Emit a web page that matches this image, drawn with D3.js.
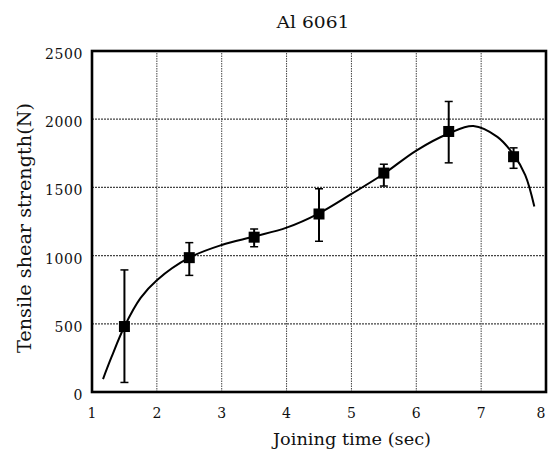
<!DOCTYPE html>
<html>
<head>
<meta charset="utf-8">
<script src="https://cdn.jsdelivr.net/npm/d3@7"></script>
<style>
  body { margin: 0; background: #fff; }
  svg { display: block; }
  text { font-family: "DejaVu Serif", "Liberation Serif", serif; fill: #111; }
</style>
</head>
<body>
<div id="container"></div>
<script>
// measured points (joining time vs. strength), with error bar limits
var times = [1.5, 2.5, 3.5, 4.5, 5.5, 6.5, 7.5];
var strength = [480, 985, 1135, 1305, 1605, 1910, 1725];
var errHigh = [895, 1095, 1195, 1490, 1670, 2130, 1790];
var errLow = [70, 855, 1065, 1105, 1510, 1680, 1640];

// fitted curve
var curveX = [1.17, 1.3, 1.5, 1.75, 2, 2.5, 3, 3.5, 4, 4.5, 5, 5.5, 6, 6.5, 6.88, 7.25, 7.5, 7.68, 7.82];
var curveY = [95, 255, 480, 690, 820, 985, 1078, 1140, 1205, 1310, 1452, 1600, 1770, 1895, 1950, 1870, 1740, 1590, 1360];

var xTicks = [1, 2, 3, 4, 5, 6, 7, 8];
var yTicks = [0, 500, 1000, 1500, 2000, 2500];

var width = 548, height = 456;
var svg = d3.select("#container").append("svg")
    .attr("width", width)
    .attr("height", height);

var x = d3.scaleLinear().domain([1, 8]).range([92, 546]);
var y = d3.scaleLinear().domain([0, 2500]).range([392, 51]);

// grid
svg.append("g")
  .selectAll("line")
  .data(xTicks.slice(1, -1))
  .enter().append("line")
    .attr("x1", function(d) { return x(d); })
    .attr("x2", function(d) { return x(d); })
    .attr("y1", y(0))
    .attr("y2", y(2500))
    .attr("stroke", "#444")
    .attr("stroke-width", 1)
    .attr("stroke-dasharray", "1.5,1");

svg.append("g")
  .selectAll("line")
  .data(yTicks.slice(1, -1))
  .enter().append("line")
    .attr("x1", x(1))
    .attr("x2", x(8))
    .attr("y1", function(d) { return y(d); })
    .attr("y2", function(d) { return y(d); })
    .attr("stroke", "#444")
    .attr("stroke-width", 1.2)
    .attr("stroke-dasharray", "2,1");

// frame
svg.append("rect")
    .attr("x", x(1))
    .attr("y", y(2500))
    .attr("width", x(8) - x(1))
    .attr("height", y(0) - y(2500))
    .attr("fill", "none")
    .attr("stroke", "#000")
    .attr("stroke-width", 2.6);

// tick labels (last one pulled in a little so it stays on the page)
svg.append("g")
  .selectAll("text")
  .data(xTicks)
  .enter().append("text")
    .attr("x", function(d) { return Math.min(x(d), width - 7); })
    .attr("y", 418)
    .attr("text-anchor", "middle")
    .style("font-size", "14px")
    .text(function(d) { return d; });

svg.append("g")
  .selectAll("text")
  .data(yTicks)
  .enter().append("text")
    .attr("x", 83)
    .attr("y", function(d) { return y(d) + 8; })
    .attr("text-anchor", "end")
    .style("font-size", "14px")
    .style("letter-spacing", "0.6px")
    .text(function(d) { return d; });

// fitted curve
var line = d3.line()
    .x(function(d) { return x(d[0]); })
    .y(function(d) { return y(d[1]); })
    .curve(d3.curveCatmullRom.alpha(0.5));

svg.append("path")
    .datum(d3.zip(curveX, curveY))
    .attr("d", line)
    .attr("fill", "none")
    .attr("stroke", "#000")
    .attr("stroke-width", 2);

// error bars and markers
var pts = times.map(function(t, i) {
  return {t: t, v: strength[i], hi: errHigh[i], lo: errLow[i]};
});

var bars = svg.append("g").selectAll("g")
  .data(pts)
  .enter().append("g");

bars.append("line")
    .attr("x1", function(d) { return x(d.t); })
    .attr("x2", function(d) { return x(d.t); })
    .attr("y1", function(d) { return y(d.hi); })
    .attr("y2", function(d) { return y(d.lo); })
    .attr("stroke", "#000")
    .attr("stroke-width", 2);

bars.selectAll(".cap")
  .data(function(d) { return [{t: d.t, v: d.hi}, {t: d.t, v: d.lo}]; })
  .enter().append("line")
    .attr("class", "cap")
    .attr("x1", function(d) { return x(d.t) - 4; })
    .attr("x2", function(d) { return x(d.t) + 4; })
    .attr("y1", function(d) { return y(d.v); })
    .attr("y2", function(d) { return y(d.v); })
    .attr("stroke", "#000")
    .attr("stroke-width", 1.5);

bars.append("rect")
    .attr("x", function(d) { return x(d.t) - 5.5; })
    .attr("y", function(d) { return y(d.v) - 5.5; })
    .attr("width", 11)
    .attr("height", 11)
    .attr("fill", "#000");

// titles
svg.append("text")
    .attr("x", 313)
    .attr("y", 28)
    .attr("text-anchor", "middle")
    .attr("textLength", 73)
    .attr("lengthAdjust", "spacingAndGlyphs")
    .style("font-size", "17px")
    .text("Al 6061");

svg.append("text")
    .attr("x", 352)
    .attr("y", 445)
    .attr("text-anchor", "middle")
    .attr("textLength", 158)
    .attr("lengthAdjust", "spacingAndGlyphs")
    .style("font-size", "17px")
    .text("Joining time (sec)");

svg.append("text")
    .attr("transform", "translate(31,228) rotate(-90)")
    .attr("text-anchor", "middle")
    .attr("textLength", 250)
    .attr("lengthAdjust", "spacingAndGlyphs")
    .style("font-size", "18px")
    .text("Tensile shear strength(N)");
</script>
</body>
</html>
